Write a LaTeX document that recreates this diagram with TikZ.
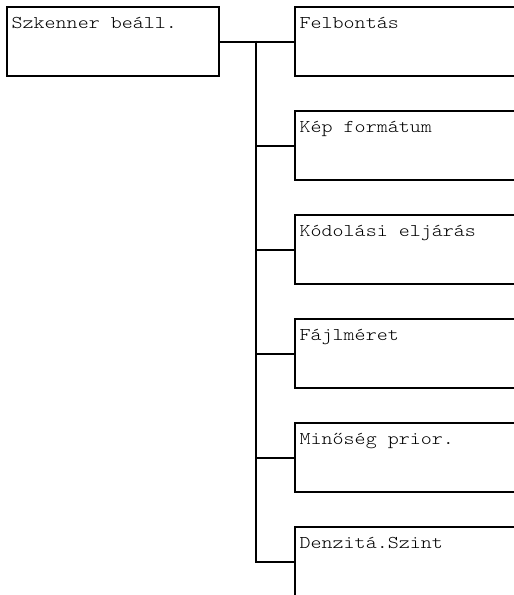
\documentclass[tikz,border=0pt]{standalone}
\usepackage{fontspec}
\setmonofont{Latin Modern Mono Light}[FakeStretch=1.165]
\begin{document}
\begin{tikzpicture}[x=1pt,y=-1pt,
  box/.style={draw,line width=2pt,rectangle,anchor=north west,inner sep=0pt,minimum height=69pt},
  mainbox/.style={box,minimum width=212pt},
  childbox/.style={box,minimum width=240pt},
  lbl/.style={anchor=base west,inner sep=0pt,text=black,font=\ttfamily\fontsize{18}{20}\selectfont},
  conn/.style={line width=2pt}]
\useasboundingbox (0,0) rectangle (514,595);
\clip (0,0) rectangle (514,595);
\node[mainbox] (m) at (6,6) {};
\node[lbl] (tm) at (11.5,28.5) {Szkenner beáll.};
\node[childbox] (c1) at (294,6) {};
\node[childbox] (c2) at (294,110) {};
\node[childbox] (c3) at (294,214) {};
\node[childbox] (c4) at (294,318) {};
\node[childbox] (c5) at (294,422) {};
\node[childbox] (c6) at (294,526) {};
\node[lbl] (t1) at (299.5,28.5) {Felbontás};
\node[lbl] (t2) at (299.5,132.5) {Kép formátum};
\node[lbl] (t3) at (299.5,236.5) {Kódolási eljárás};
\node[lbl] (t4) at (299.5,340.5) {Fájlméret};
\node[lbl] (t5) at (299.5,444.5) {Minőség prior.};
\node[lbl] (t6) at (299.5,548.5) {Denzitá.Szint};
\coordinate (b) at (256,40.5);
\draw[conn] (m.east) -- (c1.west);
\draw[conn] (b) |- (c6.west);
\foreach \i in {2,3,4,5}{\draw[conn] (c\i.west) -- (c\i.west -| b);}
\end{tikzpicture}
\end{document}
